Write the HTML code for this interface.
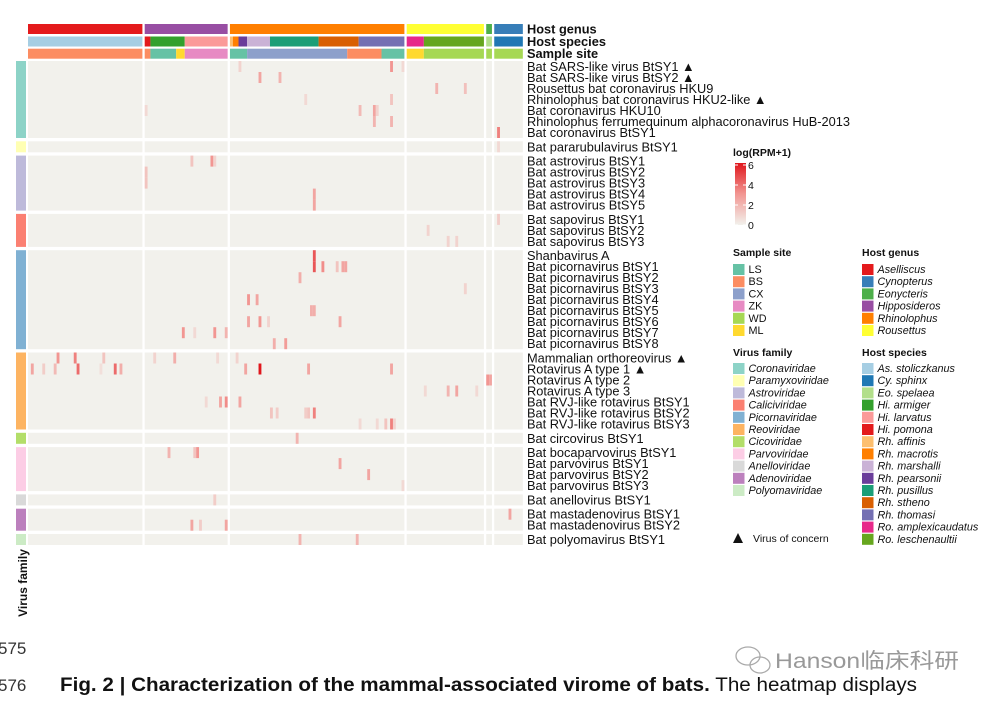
<!DOCTYPE html>
<html><head><meta charset="utf-8"><style>
html,body{margin:0;padding:0;background:#fff;}
svg{display:block;font-family:"Liberation Sans","Noto Sans CJK SC",sans-serif;}
</style></head><body>
<svg id="chart" width="991" height="703" viewBox="0 0 991 703" xmlns="http://www.w3.org/2000/svg">
<g id="annot"></g>
<g id="cells"></g>
<g id="rowlabels"></g>
<g id="legends"></g>
<text x="27" y="583" transform="rotate(-90 27 583)" text-anchor="middle" font-size="12" font-weight="bold" fill="#111">Virus family</text>
<text x="-2" y="654" font-size="17" fill="#333">575</text>
<text x="-2" y="691" font-size="17" fill="#333">576</text>
<text x="60" y="691" font-size="19" fill="#111" textLength="857" lengthAdjust="spacingAndGlyphs"><tspan font-weight="bold">Fig. 2 | Characterization of the mammal-associated virome of bats.</tspan> The heatmap displays</text>
<g fill="none" stroke="#aaa" stroke-width="1.3">
<ellipse cx="748" cy="656" rx="12" ry="9"/><ellipse cx="760" cy="665" rx="10" ry="8"/>
</g>
<text x="775" y="668" font-size="21" fill="#999" textLength="184" lengthAdjust="spacingAndGlyphs">Hanson临床科研</text>
</svg>
<script>
// ---- data ----
const virusNames = ["Bat SARS-like virus BtSY1 ▲","Bat SARS-like virus BtSY2 ▲","Rousettus bat coronavirus HKU9","Rhinolophus bat coronavirus HKU2-like ▲","Bat coronavirus HKU10","Rhinolophus ferrumequinum alphacoronavirus HuB-2013","Bat coronavirus BtSY1","Bat pararubulavirus BtSY1","Bat astrovirus BtSY1","Bat astrovirus BtSY2","Bat astrovirus BtSY3","Bat astrovirus BtSY4","Bat astrovirus BtSY5","Bat sapovirus BtSY1","Bat sapovirus BtSY2","Bat sapovirus BtSY3","Shanbavirus A","Bat picornavirus BtSY1","Bat picornavirus BtSY2","Bat picornavirus BtSY3","Bat picornavirus BtSY4","Bat picornavirus BtSY5","Bat picornavirus BtSY6","Bat picornavirus BtSY7","Bat picornavirus BtSY8","Mammalian orthoreovirus ▲","Rotavirus A type 1 ▲","Rotavirus A type 2","Rotavirus A type 3","Bat RVJ-like rotavirus BtSY1","Bat RVJ-like rotavirus BtSY2","Bat RVJ-like rotavirus BtSY3","Bat circovirus BtSY1","Bat bocaparvovirus BtSY1","Bat parvovirus BtSY1","Bat parvovirus BtSY2","Bat parvovirus BtSY3","Bat anellovirus BtSY1","Bat mastadenovirus BtSY1","Bat mastadenovirus BtSY2","Bat polyomavirus BtSY1"];
const familyNames = ["Coronaviridae","Paramyxoviridae","Astroviridae","Caliciviridae","Picornaviridae","Reoviridae","Cicoviridae","Parvoviridae","Anelloviridae","Adenoviridae","Polyomaviridae"];
const familyColors = ["#8DD3C7","#FFFFB3","#BEBADA","#FB8072","#80B1D3","#FDB462","#B3DE69","#FCCDE5","#D9D9D9","#BC80BD","#CCEBC5"];
const familyRowCounts = [7,1,5,3,9,7,1,4,1,2,1];
const sampleGroupCounts = [40,29,61,27,2,10];
const genusNames = ["Aselliscus","Cynopterus","Eonycteris","Hipposideros","Rhinolophus","Rousettus"];
const genusColors = ["#E41A1C","#377EB8","#4DAF4A","#984EA3","#FF7F00","#FFFF33"];
const genusSegStart = [0,40,69,130,157,159];
const genusSegEnd = [40,69,130,157,159,169];
const genusSegKey = [0,3,4,5,2,1];
const speciesNames = ["As. stoliczkanus","Cy. sphinx","Eo. spelaea","Hi. armiger","Hi. larvatus","Hi. pomona","Rh. affinis","Rh. macrotis","Rh. marshalli","Rh. pearsonii","Rh. pusillus","Rh. stheno","Rh. thomasi","Ro. amplexicaudatus","Ro. leschenaultii"];
const speciesColors = ["#A6CEE3","#1F78B4","#B2DF8A","#33A02C","#FB9A99","#E31A1C","#FDBF6F","#FF7F00","#CAB2D6","#6A3D9A","#1B9E77","#D95F02","#7570B3","#E7298A","#66A61E"];
const speciesSegStart = [0,40,42,54,69,70,72,75,83,100,114,130,136,157,159];
const speciesSegEnd =   [40,42,54,69,70,72,75,83,100,114,130,136,157,159,169];
const speciesSegKey =   [0,5,3,4,6,7,9,8,10,11,12,13,14,2,1];
const siteNames = ["LS","BS","CX","ZK","WD","ML"];
const siteColors = ["#66C2A5","#FC8D62","#8DA0CB","#E78AC3","#A6D854","#FFD92F"];
const siteSegStart = [0,40,42,51,54,69,75,110,122,130,136,157,159];
const siteSegEnd =   [40,42,51,54,69,75,110,122,130,136,157,159,169];
const siteSegKey =   [1,1,0,5,3,0,2,1,0,5,4,4,4];
const cellRow = [0,0,0,1,1,2,2,3,3,4,4,4,4,5,5,6,7,8,8,8,9,10,11,12,13,14,15,15,
 16,17,17,17,17,17,18,19,20,20,21,21,22,22,22,22,23,23,23,23,24,24,
 25,25,25,25,25,25,25,26,26,26,26,26,26,26,26,26,26,26,27,27,28,28,28,28,29,29,29,29,30,30,30,30,30,31,31,31,31,31,
 32,33,33,33,34,35,36,37,38,39,39,39,40,40];
const cellCol = [72,125,129,79,86,140,150,95,125,40,114,119,120,119,125,160,160,56,63,64,40,40,98,98,160,137,144,147,
 98,98,101,106,108,109,93,150,75,78,97,98,75,79,82,107,53,57,64,68,84,88,
 10,16,26,43,50,65,71,1,5,9,17,25,30,32,74,79,96,125,157,158,136,144,147,154,61,66,68,72,83,85,95,96,98,114,120,123,125,126,
 92,48,57,58,107,117,129,64,164,56,59,68,93,113];
const cellVal = [1,3,0.8,2.5,2,2,1.6,0.8,1.5,0.8,1.8,2.5,1,2,2,3.5,0.8,1.5,3,1,1.5,1.5,2.5,2.5,1.2,1,1,1,
 4.5,4.5,3.2,1.5,2.5,2.5,2.2,1,3,2.5,2.2,2.2,2.5,3,1,2.5,3,0.8,3,2,2.2,2.8,
 3,3.5,1.5,1,2.2,0.8,1,2.5,1.2,1.8,4,0.6,4,2.2,2.5,6,2.5,2.5,3,2.5,0.8,2,2.5,0.8,0.8,2.5,3.2,2.5,1.5,1.2,1.2,1.5,3.5,0.8,0.8,1.5,3.5,1,
 2,2,1.5,3,2.5,2.5,0.8,1.2,2.5,2.5,1.2,2.5,2,2];
const legendTicks = [0,2,4,6];

const NS = "http://www.w3.org/2000/svg";
const X0 = 28, COLW = 2.86, GGAP = 2.3, Y0 = 61, ROWH = 11, RGAP = 3.3;
const groupOfSample = [], groupOfRow = [];
sampleGroupCounts.forEach((n,g)=>{for(let i=0;i<n;i++)groupOfSample.push(g);});
familyRowCounts.forEach((n,g)=>{for(let i=0;i<n;i++)groupOfRow.push(g);});
function xs(i){return X0 + i*COLW + groupOfSample[Math.min(i,groupOfSample.length-1)]*GGAP;}
function yr(r){return Y0 + r*ROWH + groupOfRow[r]*RGAP;}
function colorScale(v){
  const t=Math.max(0,Math.min(1,v/6));
  const a=[242,241,236], m=[242,150,146], b=[224,22,28];
  let c;
  if(t<0.5){const u=t/0.5;c=a.map((x,k)=>x+(m[k]-x)*u);}else{const u=(t-0.5)/0.5;c=m.map((x,k)=>x+(b[k]-x)*u);}
  return `rgb(${c.map(Math.round).join(",")})`;
}
function mk(tag,attrs,parent){const e=document.createElementNS(NS,tag);for(const k in attrs)e.setAttribute(k,attrs[k]);parent.appendChild(e);return e;}

const annot=document.getElementById('annot');
function segRange(s,e){return [xs(s), (e>=groupOfSample.length? xs(e-1)+COLW : (groupOfSample[e]!==groupOfSample[e-1]? xs(e-1)+COLW : xs(e)))];}
function annotRow(starts,ends,keys,colors,y,h,name){
  starts.forEach((s,i)=>{
    const [a,b]=segRange(s,ends[i]);
    const r=mk('rect',{x:a,y:y,width:b-a,height:h,fill:colors[keys[i]]},annot);
    
    
  });
}
annotRow(genusSegStart,genusSegEnd,genusSegKey,genusColors,24,10,'host-genus');
annotRow(speciesSegStart,speciesSegEnd,speciesSegKey,speciesColors,36.5,10,'host-species');
annotRow(siteSegStart,siteSegEnd,siteSegKey,siteColors,48.7,10,'sample-site');
[['Host genus',33.5],['Host species',45.8],['Sample site',58]].forEach(([t,y])=>{
  const e=mk('text',{x:527,y:y,'font-size':12.8,'font-weight':'bold',fill:'#111'},annot);e.textContent=t;
  
  
});

const cells=document.getElementById('cells');
let rs=0;
familyRowCounts.forEach((rn,fg)=>{
  const y=yr(rs), h=rn*ROWH;
  const fs=mk('rect',{x:16,y:y,width:10,height:h,fill:familyColors[fg]},cells);
  
  
  let cs=0;
  sampleGroupCounts.forEach((cn)=>{
    const a=xs(cs), b=xs(cs+cn-1)+COLW;
    const bg=mk('rect',{x:a,y:y,width:b-a,height:h,fill:'#F2F1EC'},cells);
    
    
    cs+=cn;
  });
  rs+=rn;
});
cellRow.forEach((r,i)=>{
  const c=mk('rect',{x:xs(cellCol[i]),y:yr(r),width:COLW,height:ROWH,fill:colorScale(cellVal[i])},cells);
  
  
});

const rl=document.getElementById('rowlabels');
virusNames.forEach((n,r)=>{
  const t=mk('text',{x:527,y:yr(r)+ROWH/2+4.5,'font-size':12.8,fill:'#111'},rl);t.textContent=n;
  
  
});

const lg=document.getElementById('legends');
function title(t,x,y){const e=mk('text',{x:x,y:y,'font-size':10.5,'font-weight':'bold',fill:'#111'},lg);e.textContent=t;
  
  }
function legend(names,colors,x,y,italic){
  names.forEach((n,i)=>{
    const yy=y+i*12.2;
    const s=mk('rect',{x:x,y:yy-5,width:11.5,height:11,fill:colors[i]},lg);
    
    
    const t=mk('text',{x:x+15.5,y:yy+4,'font-size':10.8,fill:'#111','font-style':italic?'italic':'normal'},lg);t.textContent=n;
    
    
  });
}
title('log(RPM+1)',733,156);
const defs=mk('defs',{},lg);
const gr=mk('linearGradient',{id:'cg',x1:0,y1:1,x2:0,y2:0},defs);
[0,0.5,1].forEach(o=>mk('stop',{offset:o,'stop-color':colorScale(o*6)},gr));
const cb=mk('rect',{x:735,y:163,width:11,height:62,fill:'url(#cg)'},lg);


legendTicks.forEach(v=>{
  const y=225-v/6*60;
  mk('line',{x1:735,x2:738,y1:y,y2:y,stroke:'#fff'},lg);
  mk('line',{x1:743,x2:746,y1:y,y2:y,stroke:'#fff'},lg);
  const t=mk('text',{x:748,y:y+4,'font-size':10.5,fill:'#111'},lg);t.textContent=v;
  
  
});
title('Sample site',733,256);
legend(siteNames,siteColors,733,269,false);
title('Host genus',862,256);
legend(genusNames,genusColors,862,269,true);
title('Virus family',733,356);
legend(familyNames,familyColors,733,368,true);
title('Host species',862,356);
legend(speciesNames,speciesColors,862,368,true);
const tri=mk('polygon',{points:'733,543 738,533 743,543',fill:'#111'},lg);


const vc=mk('text',{x:753,y:542,'font-size':10.5,fill:'#111'},lg);vc.textContent='Virus of concern';


</script>
</body></html>
